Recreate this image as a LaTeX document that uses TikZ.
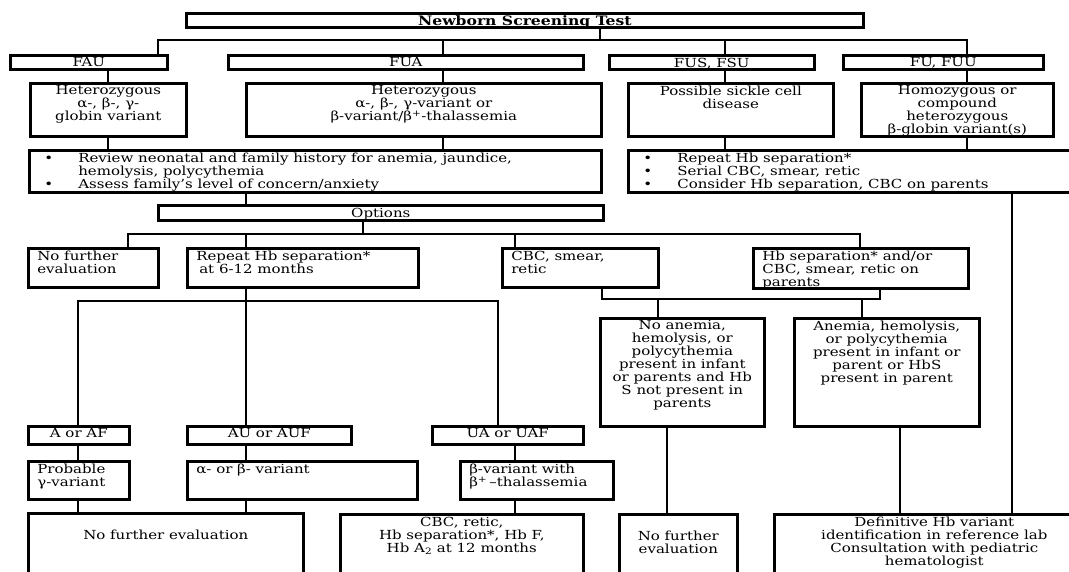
\documentclass[tikz,border=0pt]{standalone}
\usepackage{fontspec}
\setmainfont{DejaVu Serif}[FakeStretch=1.2]
\usepackage{tikz}

\newcommand{\cellbox}[3]{\parbox[c][#2][t]{#1}{#3}}
\newcommand{\lft}{\raggedright\leftskip=5pt\relax}
\newcommand{\bul}{\makebox[45pt][l]{\hspace*{11pt}•}}

\begin{document}
\begin{tikzpicture}[x=1pt, y=-1pt,
    every node/.style={font=\fontsize{12.5}{13}\selectfont},
    cell/.style={draw, line width=2.6pt, fill=white, anchor=north west, inner xsep=4pt, inner ysep=2.5pt},
    link/.style={line width=2.6pt}]
    \useasboundingbox (0,0) rectangle (1069,572);
    \clip (0,0) rectangle (1069,572);
    % Screening result
    \node[cell] (title) at (185,12) {\cellbox{669pt}{9pt}{\centering\fontsize{13}{13}\selectfont\bfseries Newborn Screening Test}};
    \node[cell] (fau) at (  9,54) {\cellbox{149pt}{9pt}{\centering FAU}};
    \node[cell] (fua) at (227,54) {\cellbox{347pt}{9pt}{\centering FUA}};
    \node[cell] (fus) at (608,54) {\cellbox{197pt}{9pt}{\centering FUS, FSU}};
    \node[cell] (fu)  at (842,54) {\cellbox{192pt}{9pt}{\centering FU, FUU}};
    % Interpretation
    \node[cell] (het1)   at ( 29,82) {\cellbox{148pt}{48pt}{\centering Heterozygous\\α-, β-, γ-\\globin variant}};
    \node[cell] (het2)   at (245,82) {\cellbox{347pt}{48pt}{\centering Heterozygous\\α-, β-, γ-variant or\\β-variant/β\textsuperscript{+}-thalassemia}};
    \node[cell] (sickle) at (627,82) {\cellbox{197pt}{48pt}{\centering Possible sickle cell\\disease}};
    \node[cell] (homo)   at (860,82) {\cellbox{184pt}{48pt}{\centering Homozygous or\\compound\\heterozygous\\β-globin variant(s)}};
    % First steps
    \node[cell] (review)  at ( 28,149) {\cellbox{564pt}{37pt}{\raggedright
        \bul Review neonatal and family history for anemia, jaundice,\\
        \hspace*{45pt}hemolysis, polycythemia\\
        \bul Assess family's level of concern/anxiety}};
    \node[cell] (repeatR) at (627,149) {\cellbox{452pt}{37pt}{\raggedright
        \bul Repeat Hb separation*\\
        \bul Serial CBC, smear, retic\\
        \bul Consider Hb separation, CBC on parents}};
    \node[cell] (options) at (157,204) {\cellbox{437pt}{10pt}{\centering Options}};
    % Options row
    \node[cell] (nfe1)  at ( 27,247) {\cellbox{122pt}{34pt}{\lft No further\\evaluation}};
    \node[cell] (rep6)  at (186,247) {\cellbox{223pt}{34pt}{\lft Repeat Hb separation*\\\hspace*{3pt}at 6-12 months}};
    \node[cell] (cbc)   at (501,247) {\cellbox{148pt}{34pt}{\lft CBC, smear,\\retic}};
    \node[cell] (hbsep) at (752,247) {\cellbox{207pt}{35pt}{\lft Hb separation* and/or\\CBC, smear, retic on\\parents}};
    % Parent results
    \node[cell] (noanemia) at (599,317) {\cellbox{156pt}{103pt}{\centering No anemia,\\hemolysis, or\\polycythemia\\present in infant\\or parents and Hb\\S not present in\\parents}};
    \node[cell] (anemia)   at (793,317) {\cellbox{177pt}{103pt}{\centering Anemia, hemolysis,\\or polycythemia\\present in infant or\\parent or HbS\\present in parent}};
    % Repeat results
    \node[cell] (aaf) at ( 27,425) {\cellbox{93pt}{13pt}{\centering A or AF}};
    \node[cell] (auf) at (186,425) {\cellbox{156pt}{13pt}{\centering AU or AUF}};
    \node[cell] (uaf) at (431,425) {\cellbox{143pt}{13pt}{\centering UA or UAF}};
    \node[cell] (prob) at ( 27,460) {\cellbox{93pt}{33pt}{\lft Probable\\γ-variant}};
    \node[cell] (ab)   at (186,460) {\cellbox{222pt}{33pt}{\lft α- or β- variant}};
    \node[cell] (bvar) at (459,460) {\cellbox{145pt}{33pt}{\lft β-variant with\\β\textsuperscript{+}\,--thalassemia}};
    % Outcomes
    \node[cell] (nfe2)       at ( 27,512) {\cellbox{267pt}{75pt}{\centering\strut\\No further evaluation}};
    \node[cell] (cbcretic)   at (339,513) {\cellbox{235pt}{75pt}{\centering CBC, retic,\\Hb separation*, Hb F,\\Hb A\textsubscript{2} at 12 months}};
    \node[cell] (nfe3)       at (618,513) {\cellbox{110pt}{75pt}{\centering\strut\\No further\\evaluation}};
    \node[cell] (definitive) at (773,513) {\cellbox{312pt}{75pt}{\centering Definitive Hb variant\\identification in reference lab\\Consultation with pediatric\\hematologist}};
    % Lanes
    \coordinate (tb0) at (600,40);
    \coordinate (tbL) at (158,40);
    \coordinate (tbR) at (967,40);
    \coordinate (tb2) at (443,40);
    \coordinate (tb3) at (725,40);
    \coordinate (colA) at (108,0);
    \coordinate (colB) at (246,0);
    \coordinate (colC) at (667,0);
    \coordinate (colD) at (900,0);
    \coordinate (colE) at (1012,0);
    \coordinate (ob0) at (363,234);
    \coordinate (obL) at (128,234);
    \coordinate (obR) at (860,234);
    \coordinate (ob3) at (515,234);
    \coordinate (cbL) at (602,299);
    \coordinate (cbR) at (880,299);
    \coordinate (cb1) at (658,299);
    \coordinate (cb2) at (862,299);
    \coordinate (rbL) at (78,301);
    \coordinate (rbR) at (498,301);
    % Screening to interpretation
    \draw[link] (title.south -| tb0) -- (tb0);
    \draw[link] (fau.north -| tbL) |- (tbR) -- (fu.north -| tbR);
    \draw[link] (tb2) -- (fua.north -| tb2);
    \draw[link] (tb3) -- (fus.north -| tb3);
    \draw[link] (fau.south -| colA) -- (het1.north -| colA);
    \draw[link] (het1.south -| colA) -- (review.north -| colA);
    \draw[link] (fua.south -| tb2) -- (het2.north -| tb2);
    \draw[link] (het2.south -| tb2) -- (review.north -| tb2);
    \draw[link] (fus.south -| tb3) -- (sickle.north -| tb3);
    \draw[link] (sickle.south -| tb3) -- (repeatR.north -| tb3);
    \draw[link] (fu.south -| tbR) -- (homo.north -| tbR);
    \draw[link] (homo.south -| tbR) -- (repeatR.north -| tbR);
    % Options
    \draw[link] (review.south -| colB) -- (options.north -| colB);
    \draw[link] (options.south -| ob0) -- (ob0);
    \draw[link] (nfe1.north -| obL) |- (obR) -- (hbsep.north -| obR);
    \draw[link] (ob0 -| colB) -- (rep6.north -| colB);
    \draw[link] (ob3) -- (cbc.north -| ob3);
    % CBC and parents
    \draw[link] (cbc.south -| cbL) -- (cbL) -- (cbR) -- (hbsep.south -| cbR);
    \draw[link] (cb1) -- (noanemia.north -| cb1);
    \draw[link] (cb2) -- (anemia.north -| cb2);
    \draw[link] (noanemia.south -| colC) -- (nfe3.north -| colC);
    \draw[link] (anemia.south -| colD) -- (definitive.north -| colD);
    \draw[link] (repeatR.south -| colE) -- (definitive.north -| colE);
    % Repeat separation
    \draw[link] (rep6.south -| colB) -- (rbL -| colB);
    \draw[link] (aaf.north -| rbL) -- (rbL) -- (rbR) -- (uaf.north -| rbR);
    \draw[link] (rbL -| colB) -- (auf.north -| colB);
    \draw[link] (aaf.south -| rbL) -- (prob.north -| rbL);
    \draw[link] (prob.south -| rbL) -- (nfe2.north -| rbL);
    \draw[link] (auf.south -| colB) -- (ab.north -| colB);
    \draw[link] (ab.south -| colB) -- (nfe2.north -| colB);
    \draw[link] (uaf.south -| ob3) -- (bvar.north -| ob3);
    \draw[link] (bvar.south -| ob3) -- (cbcretic.north -| ob3);
\end{tikzpicture}
\end{document}
